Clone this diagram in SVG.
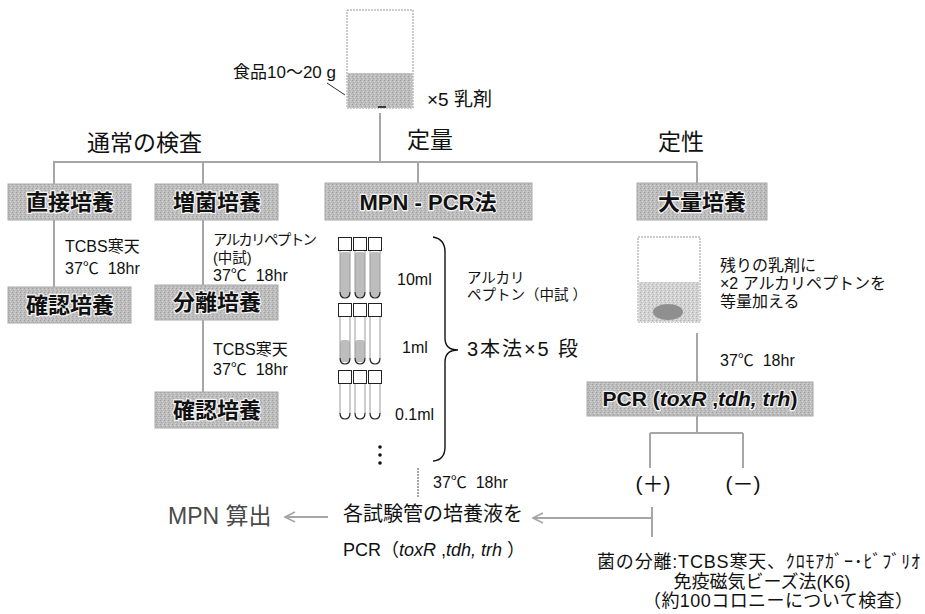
<svg xmlns="http://www.w3.org/2000/svg" width="925" height="614" viewBox="0 0 925 614">
  <style>
    text { font-family: "Liberation Sans", "Noto Sans CJK JP", sans-serif; fill: #111; }
    .box { fill: url(#grain); stroke: #a9a9a9; stroke-width: 1; }
    .boxlabel { font-weight: bold; font-size: 22px; text-anchor: middle; stroke: #f2f2f2; stroke-width: 2.5; paint-order: stroke; stroke-linejoin: round; }
    .head { font-size: 23px; }
    .note { font-size: 16px; }
    .small { font-size: 14.5px; }
    .line { stroke: #a6a6a6; stroke-width: 2; fill: none; }
    .arrow { stroke: #a6a6a6; stroke-width: 2; fill: none; }
    .tubeside { stroke: #9a9a9a; stroke-width: 1; fill: none; }
    .tubebottom { stroke: #222; stroke-width: 1.2; fill: none; }
    .cap { fill: #fff; stroke: #222; stroke-width: 1; }
    .liquid { fill: #bdbdbd; }
  </style>
  <defs>
    <!-- speckled grey fill used by the process boxes and liquids -->
    <pattern id="grain" width="4" height="4" patternUnits="userSpaceOnUse">
      <rect width="4" height="4" fill="#bdbdbd"/>
      <rect x="0" y="0" width="1" height="1" fill="#9d9d9d"/>
      <rect x="2" y="1" width="1" height="1" fill="#d6d6d6"/>
      <rect x="1" y="2" width="1" height="1" fill="#a5a5a5"/>
      <rect x="3" y="3" width="1" height="1" fill="#d0d0d0"/>
    </pattern>
    <pattern id="grainLight" width="4" height="4" patternUnits="userSpaceOnUse">
      <rect width="4" height="4" fill="#d2d2d2"/>
      <rect x="0" y="0" width="1" height="1" fill="#b0b0b0"/>
      <rect x="2" y="1" width="1" height="1" fill="#ececec"/>
      <rect x="1" y="2" width="1" height="1" fill="#bababa"/>
      <rect x="3" y="3" width="1" height="1" fill="#e6e6e6"/>
    </pattern>
    <!-- open chevron arrowhead pointing along the line -->
    <marker id="openhead" viewBox="0 0 12 12" refX="11" refY="6" markerWidth="12" markerHeight="12" markerUnits="userSpaceOnUse" orient="auto">
      <path d="M1,1 L11,6 L1,11" fill="none" stroke="#a6a6a6" stroke-width="1.6"/>
    </marker>
    <!-- empty test tube: cap plus body, origin at cap top-left -->
    <g id="tube">
      <line class="tubeside" x1="2" y1="14" x2="2" y2="55"/>
      <line class="tubeside" x1="12" y1="14" x2="12" y2="55"/>
      <path class="tubebottom" d="M2,55 Q2,61 7,61 Q12,61 12,55"/>
      <rect class="cap" x="0.5" y="0.5" width="13" height="13"/>
    </g>
    <g id="tubeShort">
      <line class="tubeside" x1="2" y1="14" x2="2" y2="43"/>
      <line class="tubeside" x1="12" y1="14" x2="12" y2="43"/>
      <path class="tubebottom" d="M2,43 Q2,49 7,49 Q12,49 12,43"/>
      <rect class="cap" x="0.5" y="0.5" width="13" height="13"/>
    </g>
  </defs>

  <rect width="925" height="614" fill="#fff"/>

  <!-- connectors -->
  <g id="connectors">
    <line class="line" x1="380" y1="113" x2="380" y2="162"/>
    <line class="line" x1="53" y1="162" x2="697" y2="162"/>
    <line class="line" x1="54" y1="162" x2="54" y2="184"/>
    <line class="line" x1="203" y1="162" x2="203" y2="184"/>
    <line class="line" x1="418" y1="162" x2="418" y2="183"/>
    <line class="line" x1="697" y1="162" x2="697" y2="183"/>
    <line class="line" x1="54" y1="220" x2="54" y2="287"/>
    <line class="line" x1="203" y1="220" x2="203" y2="285"/>
    <line class="line" x1="203" y1="320" x2="203" y2="392"/>
    <line class="line" x1="697" y1="333" x2="697" y2="382"/>
    <line class="line" x1="697" y1="416" x2="697" y2="433"/>
    <line class="line" x1="650" y1="433" x2="743" y2="433"/>
    <line class="line" x1="650" y1="433" x2="650" y2="468"/>
    <line class="line" x1="743" y1="433" x2="743" y2="468"/>
    <line class="line" x1="652" y1="507" x2="652" y2="537"/>
    <line class="arrow" x1="652" y1="518" x2="533" y2="518" marker-end="url(#openhead)"/>
    <line class="line" x1="418" y1="468" x2="418" y2="498" stroke-width="1.5" stroke-dasharray="2 1"/>
    <line class="arrow" x1="328" y1="517" x2="285" y2="517" marker-end="url(#openhead)"/>
    <line x1="327" y1="83" x2="345" y2="95" stroke="#333" stroke-width="1"/>
  </g>

  <!-- sample beaker -->
  <g id="sample">
    <rect x="347" y="10" width="66" height="98" fill="#fff" stroke="#999" stroke-width="1" stroke-dasharray="2 1"/>
    <rect x="347.5" y="73" width="65" height="35" fill="url(#grain)"/>
    <line x1="378" y1="107" x2="386" y2="107" stroke="#111" stroke-width="1.5"/>
    <text x="233" y="78" style="font-size:17px">食品10〜20 g</text>
    <text x="427" y="106" style="font-size:19px">×5 乳剤</text>
  </g>

  <g id="headings">
    <text class="head" x="87" y="151">通常の検査</text>
    <text class="head" x="407" y="148">定量</text>
    <text class="head" x="658" y="150">定性</text>
  </g>

  <!-- routine examination -->
  <g id="direct">
    <rect class="box" x="8" y="184" width="123" height="36"/>
    <text class="boxlabel" x="70" y="210">直接培養</text>
  </g>
  <g id="direct-note">
    <text class="note" x="65" y="252">TCBS寒天</text>
    <text class="note" x="65" y="274">37℃&#160;&#160;18hr</text>
  </g>
  <g id="confirm1">
    <rect class="box" x="8" y="287" width="123" height="36"/>
    <text class="boxlabel" x="70" y="313">確認培養</text>
  </g>

  <g id="enrich">
    <rect class="box" x="155" y="184" width="123" height="36"/>
    <text class="boxlabel" x="217" y="210">増菌培養</text>
  </g>
  <g id="enrich-note">
    <text class="small" x="213" y="245" textLength="104">アルカリペプトン</text>
    <text class="small" x="213" y="263">(中試)</text>
    <text class="note" x="213" y="281">37℃&#160;&#160;18hr</text>
  </g>
  <g id="isolate">
    <rect class="box" x="155" y="285" width="123" height="35"/>
    <text class="boxlabel" x="217" y="310">分離培養</text>
  </g>
  <g id="isolate-note">
    <text class="note" x="213" y="355">TCBS寒天</text>
    <text class="note" x="213" y="375">37℃&#160;&#160;18hr</text>
  </g>
  <g id="confirm2">
    <rect class="box" x="155" y="392" width="123" height="36"/>
    <text class="boxlabel" x="217" y="418">確認培養</text>
  </g>

  <!-- quantitative: MPN-PCR -->
  <g id="mpn">
    <rect class="box" x="325" y="183" width="207" height="37"/>
    <text class="boxlabel" x="428" y="210">MPN - PCR法</text>
  </g>
  <g id="tubes">
    <!-- 10 ml row -->
    <rect class="liquid" x="340" y="252" width="10" height="45" rx="3"/>
    <rect class="liquid" x="355" y="252" width="10" height="45" rx="3"/>
    <rect class="liquid" x="370" y="252" width="10" height="45" rx="3"/>
    <use href="#tube" x="338" y="237"/>
    <use href="#tube" x="353" y="237"/>
    <use href="#tube" x="368" y="237"/>
    <!-- 1 ml row -->
    <rect class="liquid" x="340" y="340" width="10" height="22" rx="3"/>
    <rect class="liquid" x="355" y="340" width="10" height="22" rx="3"/>
    <use href="#tube" x="338" y="303"/>
    <use href="#tube" x="353" y="303"/>
    <use href="#tube" x="368" y="303"/>
    <!-- 0.1 ml row -->
    <use href="#tubeShort" x="338" y="370"/>
    <use href="#tubeShort" x="353" y="370"/>
    <use href="#tubeShort" x="368" y="370"/>
    <circle cx="380" cy="447" r="1.8" fill="#111"/>
    <circle cx="380" cy="455" r="1.8" fill="#111"/>
    <circle cx="380" cy="463" r="1.8" fill="#111"/>
    <text class="note" x="397" y="285">10ml</text>
    <text class="note" x="402" y="353">1ml</text>
    <text class="note" x="395" y="420">0.1ml</text>
    <path d="M433,237 Q445,239 445,252 L445,338 Q445,350 458,350 Q445,350 445,362 L445,447 Q445,460 433,461" fill="none" stroke="#111" stroke-width="1.4"/>
  </g>
  <g id="mpn-note">
    <text class="small" x="467" y="283">アルカリ</text>
    <text class="small" x="467" y="300">ペプトン（中試 ）</text>
    <text x="467" y="356" style="font-size:20px" textLength="111">3本法×5 段</text>
    <text class="note" x="433" y="488">37℃&#160;&#160;18hr</text>
  </g>
  <g id="culture-pcr">
    <text x="343" y="521" style="font-size:20px">各試験管の培養液を</text>
    <text x="343" y="556" style="font-size:18px">PCR（<tspan font-style="italic">toxR</tspan> ,<tspan font-style="italic">tdh, trh</tspan> ）</text>
  </g>
  <g id="mpn-calc">
    <text x="168" y="524" style="font-size:23px; fill:#4a4a4a">MPN 算出</text>
  </g>

  <!-- qualitative: bulk culture -->
  <g id="bulk">
    <rect class="box" x="637" y="183" width="130" height="37"/>
    <text class="boxlabel" x="702" y="210">大量培養</text>
  </g>
  <g id="bulk-beaker">
    <rect x="638" y="237" width="62" height="85" fill="#fff" stroke="#999" stroke-width="1" stroke-dasharray="2 1"/>
    <rect x="638.5" y="282" width="61" height="40" fill="url(#grainLight)"/>
    <ellipse cx="668" cy="312" rx="15" ry="8" fill="#8f8f8f"/>
    <text class="note" x="720" y="271">残りの乳剤に</text>
    <text class="note" x="720" y="289">×2 アルカリペプトンを</text>
    <text class="note" x="720" y="307">等量加える</text>
    <text class="note" x="720" y="366">37℃&#160;&#160;18hr</text>
  </g>
  <g id="pcr">
    <rect class="box" x="587" y="382" width="226" height="34"/>
    <text class="boxlabel" x="700" y="406" style="font-size:21px">PCR (<tspan font-style="italic">toxR</tspan> ,<tspan font-style="italic">tdh, trh</tspan>)</text>
  </g>
  <g id="results">
    <text x="653" y="491" style="font-size:21px; text-anchor:middle">(＋)</text>
    <text x="743" y="491" style="font-size:21px; text-anchor:middle">(－)</text>
  </g>
  <g id="isolation">
    <text x="597" y="568" style="font-size:18px" textLength="323">菌の分離:TCBS寒天、ｸﾛﾓｱｶﾞｰ･ﾋﾞﾌﾞﾘｵ</text>
    <text x="762" y="588" style="font-size:18px; text-anchor:middle">免疫磁気ビーズ法(K6)</text>
    <text x="643" y="607" style="font-size:18px" textLength="270">（約100コロニーについて検査）</text>
  </g>
</svg>
